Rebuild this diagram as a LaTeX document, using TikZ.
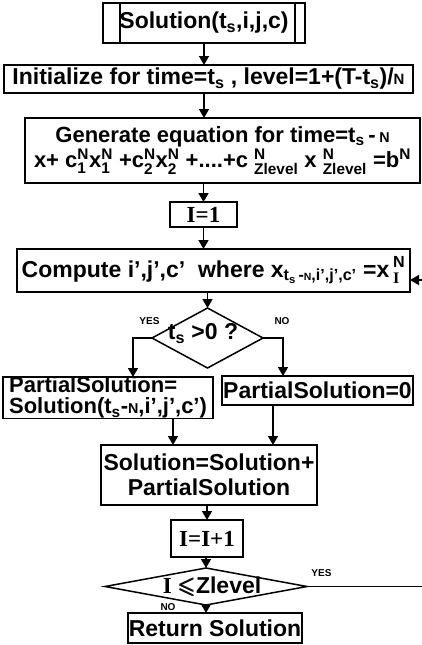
\documentclass[tikz,border=0pt]{standalone}
\usepackage{amsmath,amssymb}
\usepackage{graphicx}
\usepackage{fontspec}
\setmainfont{Liberation Sans}
\newfontfamily\timesb{Liberation Serif}
\usetikzlibrary{positioning,arrows.meta,shapes.geometric}
\newcommand\bigtxt{\fontsize{23}{25}\selectfont\bfseries}
\newcommand\smN{\scalebox{0.65}{N}}
\newcommand\supsub[2]{$^{\text{#1}}_{\text{#2}}$}
\tikzset{
  box/.style={draw, line width=1.5pt, outer sep=0pt, inner sep=1pt, align=center, font=\bigtxt},
  prc/.style={box, path picture={
      \draw[line width=1.5pt]
        ([xshift=17pt]path picture bounding box.north west) -- ([xshift=17pt]path picture bounding box.south west)
        ([xshift=-10pt]path picture bounding box.north east) -- ([xshift=-10pt]path picture bounding box.south east);}},
  dec/.style={diamond, draw, line width=1.5pt, outer sep=0pt, inner sep=0pt},
  dtxt/.style={inner sep=0pt, font=\bigtxt},
  flow/.style={-{Triangle[length=9pt,width=10pt]}, line width=1.5pt},
  yn/.style={inner sep=0pt, font=\fontsize{10}{10}\selectfont\bfseries},
}
\begin{document}
\begin{tikzpicture}[node distance=20pt]
\useasboundingbox (0,0) rectangle (422pt,-645pt);
\node[prc, minimum width=202pt, minimum height=40pt] (top) at (204pt,-23pt) {Solution(t\textsubscript{s},i,j,c)};
\node[box, minimum width=409pt, minimum height=28pt, below=22pt of top, xshift=4.5pt] (init)
  {Initialize for time=t\textsubscript{s} , level=1+(T-t\textsubscript{s})/\smN};
\node[box, minimum width=395pt, minimum height=65pt, font=\fontsize{22}{25}\selectfont\bfseries,
      below=25pt of init, xshift=14pt] (gen)
  {Generate equation for time=t\textsubscript{s}\,-\,\smN\\
   x+ c\supsub{N}{1}x\supsub{N}{1} +c\supsub{N}{2}x\supsub{N}{2} +....+c \supsub{N}{Zlevel} x \supsub{N}{Zlevel} =b$^{\text{N}}$};
\node[box, minimum width=67pt, minimum height=25pt, below=19pt of gen, xshift=-19pt] (one) {\timesb I=1};
\node[box, minimum width=393pt, minimum height=43pt, below=22pt of one, xshift=10pt] (cmp)
  {Compute i',j',c'\ \ where x$_{\text{t$_{\text{s}}$\,-\smN,i',j',c'}}$ =x\,\supsub{N}{\timesb I}};
\node[dec, minimum width=111pt, minimum height=60pt, below=16pt of cmp, xshift=-6pt] (d1) {};
\node[dtxt] (d1t) at ([shift={(-4.5pt,4.5pt)}]d1.center) {t\textsubscript{s} >0 ?};
\node[box, minimum width=210pt, minimum height=41pt, inner sep=0pt, align=left,
      font=\fontsize{22}{21}\selectfont\bfseries, below=9pt of d1, xshift=-99.5pt] (lps)
  {PartialSolution=\\Solution(t\textsubscript{s}-\smN,i',j',c')};
\node[box, minimum width=179pt, minimum height=29pt, below=8pt of d1, xshift=110pt] (rps) {PartialSolution=0};
\node[box, minimum width=216pt, minimum height=60pt, below=77pt of d1, xshift=1.5pt] (sol)
  {Solution=Solution+\\PartialSolution};
\node[box, minimum width=72pt, minimum height=37pt, below=15pt of sol, xshift=-2pt] (inc) {\timesb I=I+1};
\node[dec, minimum width=202pt, minimum height=37pt, below=11pt of inc, xshift=-1pt] (d2) {};
\node[dtxt] (d2t) at ([xshift=6pt]d2.center) {{\timesb I} $\pmb{\leqslant}$Zlevel};
\node[box, minimum width=174pt, minimum height=30pt, below=8pt of d2, xshift=9pt] (ret) {Return Solution};
% yes / no labels
\node[yn] (y1) at ([shift={(-2.5pt,17pt)}]d1.west) {YES};
\node[yn] (n1) at ([shift={(19pt,17pt)}]d1.east) {NO};
\node[yn] (y2) at ([shift={(14.5pt,13pt)}]d2.east) {YES};
\node[yn] (n2) at ([shift={(-38pt,-2pt)}]d2.south) {NO};
% flow
\draw[flow] (top) -- (top |- init.north);
\draw[flow] (init.south -| top) -- (top |- gen.north);
\draw[flow] (gen.south -| one) -- (one |- one.north);
\draw[flow] (one) -- (one |- cmp.north);
\draw[flow] (cmp.south -| d1.north) -- (d1.north);
\draw[flow] (d1.west) -| ([xshift=25pt]lps.north);
\draw[flow] (d1.east) -| ([xshift=-34.5pt]rps.north);
\draw[flow] ([xshift=65pt]lps.south) -- ([xshift=65pt]lps.south |- sol.north);
\draw[flow] ([xshift=-44.5pt]rps.south) -- ([xshift=-44.5pt]rps.south |- sol.north);
\draw[flow] (sol.south -| inc) -- (inc);
\draw[flow] (inc.south -| d2.north) -- (d2.north);
\draw[flow] (d2.south) -- (d2.south |- ret.north);
% loop back
\coordinate (rt) at ([xshift=14pt,yshift=-9.5pt]cmp.east);
\draw[flow] (d2.east) -- (d2.east -| rt) -- (rt) -- ([yshift=-9.5pt]cmp.east);
\end{tikzpicture}
\end{document}
